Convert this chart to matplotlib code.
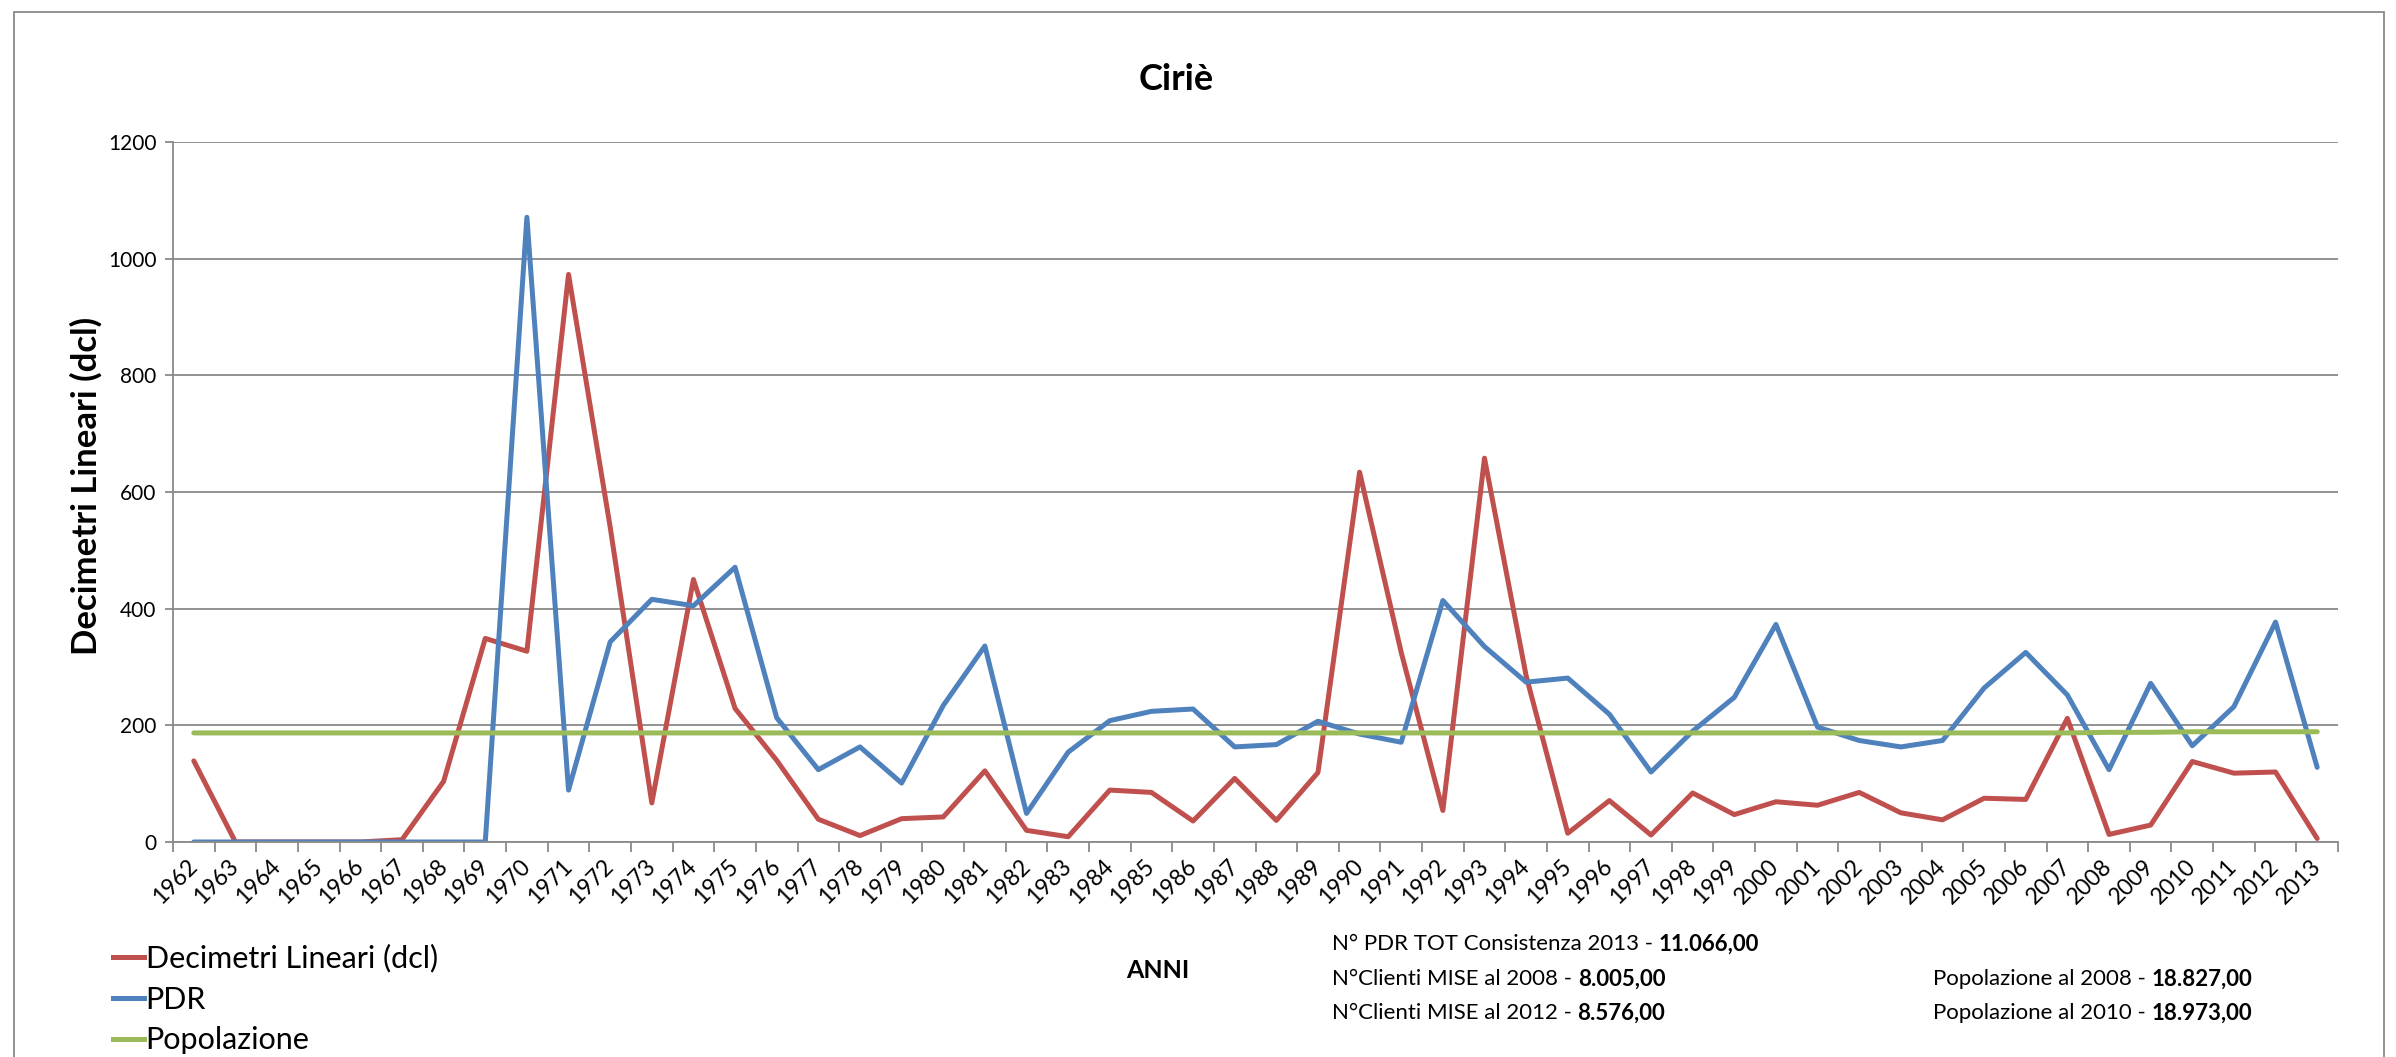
import numpy as np
import matplotlib.pyplot as plt
from matplotlib.lines import Line2D
from matplotlib.patches import Rectangle

plt.rcParams['font.family'] = ['Lato', 'DejaVu Sans']

# data
anni = list(range(1962, 2014))
decimetri = [139, 0, 0, 0, 0, 4, 104, 349, 327, 973, 540, 67, 450, 229, 140, 39, 11, 40, 43,
             122, 20, 9, 89, 85, 36, 109, 37, 119, 634, 325, 54, 658, 285, 15, 71, 12, 84,
             47, 69, 63, 85, 50, 38, 75, 73, 212, 13, 29, 138, 118, 120, 6]
pdr = [0, 0, 0, 0, 0, 0, 0, 0, 1071, 89, 343, 416, 405, 471, 213, 124, 163, 101, 234,
       336, 49, 154, 208, 224, 228, 163, 167, 207, 185, 171, 414, 335, 274, 281, 219, 120, 190,
       248, 373, 197, 174, 163, 174, 264, 325, 252, 124, 272, 165, 232, 377, 128]
popolazione = [187] * 46 + [188, 188, 189, 189, 189, 189]

serie_nomi = ['Decimetri Lineari (dcl)', 'PDR', 'Popolazione']
colori = ['#C0504D', '#4F81BD', '#9BBB59']

note_sx = [('N° PDR TOT Consistenza 2013 - ', '11.066,00'),
           ('N°Clienti MISE al 2008 - ', '8.005,00'),
           ('N°Clienti MISE al 2012 - ', '8.576,00')]
note_dx = [('Popolazione al 2008 - ', '18.827,00'),
           ('Popolazione al 2010 - ', '18.973,00')]

W, H = 2396, 1057
fig = plt.figure(figsize=(W / 100, H / 100), dpi=100)
ax = fig.add_axes([173 / W, 1 - 842 / H, (2338 - 173) / W, (842 - 142) / H])

x = np.arange(len(anni))
for serie, col in zip([decimetri, pdr, popolazione], colori):
    ax.plot(x, serie, color=col, lw=3.6, solid_joinstyle='round', solid_capstyle='round')

ax.set_xlim(-0.5, len(anni) - 0.5)
ax.set_ylim(0, 1200)
ax.set_yticks(range(0, 1201, 200))
ax.yaxis.grid(True, color='#898989', lw=1.3)
ax.set_axisbelow(True)
ax.tick_params(axis='y', labelsize=15, length=6, color='#898989', width=1.3, pad=6)

ax.set_xticks(x)
ax.set_xticklabels([str(a) for a in anni], rotation=45, ha='right', va='center',
                   rotation_mode='anchor', fontsize=16.5)
ax.tick_params(axis='x', which='major', length=0, pad=15)
ax.set_xticks(np.arange(-0.5, len(anni), 1), minor=True)
ax.tick_params(axis='x', which='minor', length=7, color='#898989', width=1.3)

for s in ['top', 'right']:
    ax.spines[s].set_visible(False)
for s in ['left', 'bottom']:
    ax.spines[s].set_color('#898989')
    ax.spines[s].set_linewidth(1.3)

fig.text(1176 / W, 1 - 90 / H, 'Ciriè', fontsize=26, fontweight='bold', ha='center', va='baseline')
fig.text(86 / W, 1 - 486 / H, 'Decimetri Lineari (dcl)', fontsize=25, fontweight='bold',
         rotation=90, ha='center', va='center')
fig.text(1158 / W, 1 - 970 / H, 'ANNI', fontsize=18, fontweight='bold', ha='center', va='center')

# legend
handles = [Line2D([], [], color=c, lw=3.6) for c in colori]
fig.legend(handles, serie_nomi, loc='upper left', bbox_to_anchor=(113 / W, 1 - 944 / H),
           frameon=False, fontsize=22, handlelength=1.0, handletextpad=0.07,
           labelspacing=0.42, borderpad=0, borderaxespad=0)

# notes with bold values
def nota(xf, yf, testo, valore):
    t = fig.text(xf, yf, testo, fontsize=16, ha='left', va='center')
    ax.annotate(valore, xy=(1, 0.5), xycoords=t, fontsize=16, fontweight='bold',
                ha='left', va='center', annotation_clip=False)

for i, (a, b) in enumerate(note_sx):
    nota(1332 / W, 1 - [944, 979, 1013][i] / H, a, b)
for i, (a, b) in enumerate(note_dx):
    nota(1933 / W, 1 - [979, 1013][i] / H, a, b)

# chart frame
fig.add_artist(Rectangle((14 / W, -0.2), (2384 - 14) / W, 1.2 - 12 / H,
                         transform=fig.transFigure, fill=False, edgecolor='#898989', lw=1.3))

fig.savefig('out.png', dpi=100)
